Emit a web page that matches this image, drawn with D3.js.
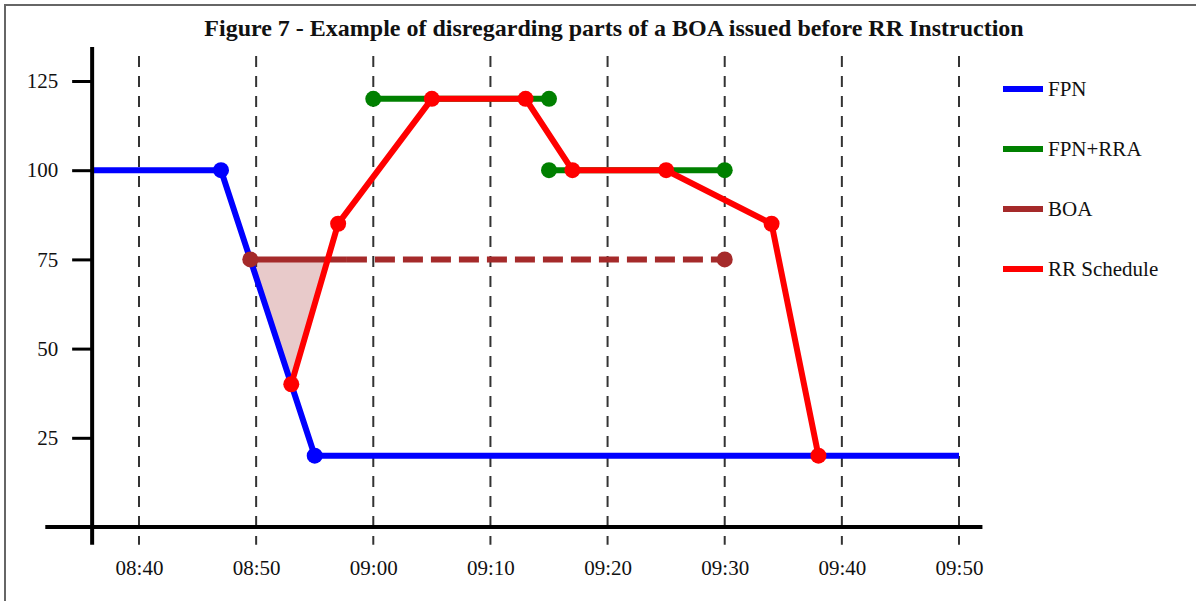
<!DOCTYPE html>
<html>
<head>
<meta charset="utf-8">
<script src="https://cdn.jsdelivr.net/npm/d3@7"></script>
<style>
  body { margin: 0; background: #fff; }
  svg { display: block; font-family: "Liberation Serif", "Times New Roman", serif; }
</style>
</head>
<body>
<svg id="chart" width="1196" height="601"></svg>
<script>
// chart data (times are HH:MM or HH:MM:SS, values in MW)
const title = "Figure 7 - Example of disregarding parts of a BOA issued before RR Instruction";

const xTickTimes = ["08:40", "08:50", "09:00", "09:10", "09:20", "09:30", "09:40", "09:50"];
const yTickValues = [25, 50, 75, 100, 125];

const fpnTimes = ["08:36", "08:47", "08:55", "09:50"];
const fpnValues = [100, 100, 20, 20];
const fpnDotTimes = ["08:47", "08:55"];

const rraFirstTimes = ["09:00", "09:15"];
const rraFirstValues = [120, 120];
const rraSecondTimes = ["09:15", "09:30"];
const rraSecondValues = [100, 100];

const boaTimes = ["08:49:30", "09:30"];
const boaValues = [75, 75];
const boaSolidUntil = "08:57:45";

const rrTimes = ["08:53", "08:57", "09:05", "09:13", "09:17", "09:25", "09:34", "09:38"];
const rrValues = [40, 85, 120, 120, 100, 100, 85, 20];

const disregardTimes = ["08:49:30", "08:56:07", "08:53"];
const disregardValues = [75, 75, 40];

const legendLabels = ["FPN", "FPN+RRA", "BOA", "RR Schedule"];
const legendColors = ["blue", "green", "brown", "red"];

const parseHM = d3.timeParse("%H:%M");
const parseHMS = d3.timeParse("%H:%M:%S");
const parseTime = (s) => parseHMS(s) || parseHM(s);
const toPoints = (times, values) => times.map((t, i) => ({ t: parseTime(t), v: values[i] }));

const svg = d3.select("#chart");

// outer frame (cropped on the right/bottom in the original)
svg.append("rect")
  .attr("x", 5).attr("y", 5)
  .attr("width", 1300).attr("height", 700)
  .attr("fill", "none")
  .attr("stroke", "#666")
  .attr("stroke-width", 2);

const xScale = d3.scaleTime()
  .domain([parseTime("08:40"), parseTime("09:50")])
  .range([139, 959]);
const yScale = d3.scaleLinear()
  .domain([0, 125])
  .range([527, 81]);

const line = d3.line().x((d) => xScale(d.t)).y((d) => yScale(d.v));

// title
svg.append("text")
  .attr("x", 614)
  .attr("y", 36)
  .attr("text-anchor", "middle")
  .style("font-size", "24px")
  .style("font-weight", "bold")
  .style("fill", "#111")
  .text(title);

// vertical dashed gridlines
svg.append("g")
  .selectAll("line")
  .data(xTickTimes.map(parseTime))
  .join("line")
  .attr("x1", (d) => xScale(d)).attr("x2", (d) => xScale(d))
  .attr("y1", yScale(132)).attr("y2", yScale(-5))
  .attr("stroke", "#333")
  .attr("stroke-width", 2)
  .attr("stroke-dasharray", "11,9");

// disregarded part of the BOA
svg.append("path")
  .datum(toPoints(disregardTimes, disregardValues))
  .attr("d", (d) => line(d) + "Z")
  .attr("fill", "brown")
  .attr("fill-opacity", 0.25);

function drawSeries(points, color, dots, dash) {
  svg.append("path")
    .datum(points)
    .attr("d", line)
    .attr("fill", "none")
    .attr("stroke", color)
    .attr("stroke-width", 6)
    .attr("stroke-dasharray", dash || null);
  svg.append("g")
    .selectAll("circle")
    .data(dots)
    .join("circle")
    .attr("cx", (d) => xScale(d.t))
    .attr("cy", (d) => yScale(d.v))
    .attr("r", 8)
    .attr("fill", color);
}

// FPN
const fpnPts = toPoints(fpnTimes, fpnValues);
const fpnDotSet = new Set(fpnDotTimes);
drawSeries(fpnPts, "blue", fpnPts.filter((d, i) => fpnDotSet.has(fpnTimes[i])));

// BOA: solid up to the RR instruction, dashed afterwards
const boaPts = toPoints(boaTimes, boaValues);
const boaSplit = { t: parseTime(boaSolidUntil), v: boaValues[0] };
drawSeries([boaPts[0], boaSplit], "brown", []);
drawSeries([boaSplit, boaPts[1]], "brown", boaPts, "20,8");

// FPN+RRA
const rra1 = toPoints(rraFirstTimes, rraFirstValues);
const rra2 = toPoints(rraSecondTimes, rraSecondValues);
drawSeries(rra1, "green", rra1);
drawSeries(rra2, "green", rra2);

// RR Schedule
const rrPts = toPoints(rrTimes, rrValues);
drawSeries(rrPts, "red", rrPts);

// y axis
const yAxis = svg.append("g")
  .attr("transform", `translate(${xScale(parseTime("08:36"))},0)`)
  .call(d3.axisLeft(yScale).tickValues(yTickValues).tickSize(20).tickPadding(14));
yAxis.select(".domain").remove();
yAxis.selectAll(".tick line").attr("stroke", "#000").attr("stroke-width", 3);
yAxis.selectAll(".tick text")
  .style("font-family", "Liberation Serif, serif")
  .style("font-size", "21px")
  .attr("fill", "#111");
yAxis.append("line")
  .attr("x1", 0).attr("x2", 0)
  .attr("y1", yScale(134.5)).attr("y2", yScale(-5))
  .attr("stroke", "#000")
  .attr("stroke-width", 4);

// x axis
const xAxis = svg.append("g")
  .attr("transform", `translate(0,${yScale(0)})`)
  .call(d3.axisBottom(xScale)
    .tickValues(xTickTimes.map(parseTime))
    .tickFormat(d3.timeFormat("%H:%M"))
    .tickSize(0)
    .tickPadding(33));
xAxis.select(".domain").remove();
xAxis.selectAll(".tick text")
  .style("font-family", "Liberation Serif, serif")
  .style("font-size", "21px")
  .attr("fill", "#111");
xAxis.append("line")
  .attr("x1", xScale(parseTime("08:32"))).attr("x2", xScale(parseTime("09:52")))
  .attr("y1", 0).attr("y2", 0)
  .attr("stroke", "#000")
  .attr("stroke-width", 4);

// legend
const legend = svg.append("g")
  .selectAll("g")
  .data(legendLabels)
  .join("g")
  .attr("transform", (d, i) => `translate(1003,${89 + i * 60})`);
legend.append("line")
  .attr("x1", 0).attr("x2", 40)
  .attr("stroke", (d, i) => legendColors[i])
  .attr("stroke-width", 6);
legend.append("text")
  .attr("x", 45)
  .attr("dy", "0.35em")
  .style("font-size", "21px")
  .style("fill", "#111")
  .text((d) => d);
</script>
</body>
</html>
